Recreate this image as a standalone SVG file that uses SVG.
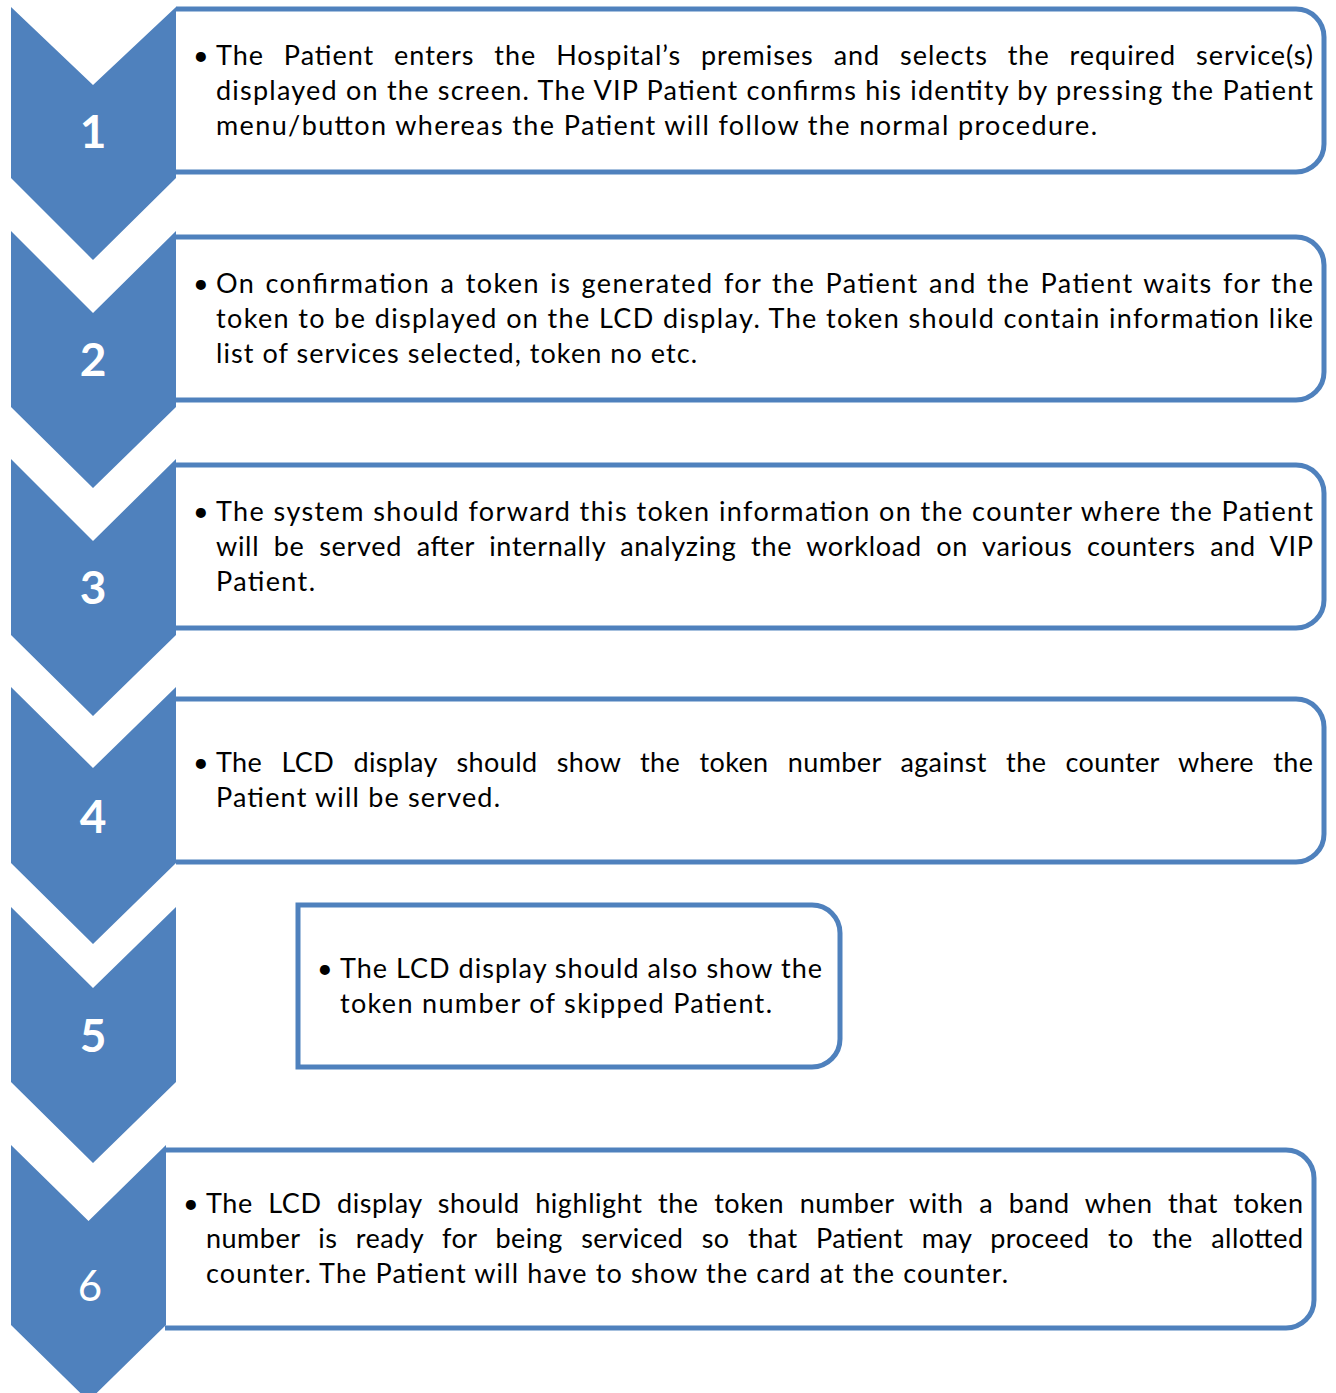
<svg xmlns="http://www.w3.org/2000/svg" width="1336" height="1393" viewBox="0 0 1336 1393">
<style>
.chev{fill:#4F81BD;stroke:none}
.box{fill:#FFFFFF;stroke:#4F81BD;stroke-width:5}
.num{font-family:Lato,"Liberation Sans",sans-serif;font-size:46px;font-weight:bold;fill:#FFFFFF;text-anchor:middle}
.num6{font-family:Lato,"Liberation Sans",sans-serif;font-size:42px;fill:#FFFFFF;text-anchor:middle}
.t{font-family:Lato,"Liberation Sans",sans-serif;font-size:27px;fill:#000000}
</style>
<rect width="1336" height="1393" fill="#FFFFFF"/>

<g id="box1">
<path class="box" d="M176,9 H1296 A28,28 0 0 1 1324,37 V144 A28,28 0 0 1 1296,172 H176"/>
<text class="t" x="193" y="65">•</text>
<text class="t" x="216" y="65" word-spacing="12" textLength="1097" lengthAdjust="spacing">The Patient enters the Hospital’s premises and selects the required service(s)</text>
<text class="t" x="216" y="100" textLength="1097" lengthAdjust="spacing">displayed on the screen. The VIP Patient confirms his identity by pressing the Patient</text>
<text class="t" x="216" y="135" textLength="881" lengthAdjust="spacing">menu/button whereas the Patient will follow the normal procedure.</text>
</g>

<g id="box2">
<path class="box" d="M176,237 H1296 A28,28 0 0 1 1324,265 V372 A28,28 0 0 1 1296,400 H176"/>
<text class="t" x="193" y="293">•</text>
<text class="t" x="216" y="293" word-spacing="2" textLength="1097" lengthAdjust="spacing">On confirmation a token is generated for the Patient and the Patient waits for the</text>
<text class="t" x="216" y="328" textLength="1097" lengthAdjust="spacing">token to be displayed on the LCD display. The token should contain information like</text>
<text class="t" x="216" y="363" textLength="481" lengthAdjust="spacing">list of services selected, token no etc.</text>
</g>

<g id="box3">
<path class="box" d="M176,465 H1296 A28,28 0 0 1 1324,493 V600 A28,28 0 0 1 1296,628 H176"/>
<text class="t" x="193" y="521">•</text>
<text class="t" x="216" y="521" textLength="1097" lengthAdjust="spacing">The system should forward this token information on the counter where the Patient</text>
<text class="t" x="216" y="556" word-spacing="7" textLength="1097" lengthAdjust="spacing">will be served after internally analyzing the workload on various counters and VIP</text>
<text class="t" x="216" y="591" textLength="99" lengthAdjust="spacing">Patient.</text>
</g>

<g id="box4">
<path class="box" d="M176,699 H1296 A28,28 0 0 1 1324,727 V834 A28,28 0 0 1 1296,862 H176"/>
<text class="t" x="193" y="772">•</text>
<text class="t" x="216" y="772" word-spacing="12" textLength="1097" lengthAdjust="spacing">The LCD display should show the token number against the counter where the</text>
<text class="t" x="216" y="807" textLength="284" lengthAdjust="spacing">Patient will be served.</text>
</g>

<g id="box5">
<path class="box" d="M298,905 H812 A28,28 0 0 1 840,933 V1039 A28,28 0 0 1 812,1067 H298 Z"/>
<text class="t" x="317" y="978">•</text>
<text class="t" x="340" y="978" textLength="482" lengthAdjust="spacing">The LCD display should also show the</text>
<text class="t" x="340" y="1013" textLength="432" lengthAdjust="spacing">token number of skipped Patient.</text>
</g>

<g id="box6">
<path class="box" d="M165,1150 H1286 A28,28 0 0 1 1314,1178 V1300 A28,28 0 0 1 1286,1328 H165"/>
<text class="t" x="183" y="1213">•</text>
<text class="t" x="206" y="1213" word-spacing="8" textLength="1097" lengthAdjust="spacing">The LCD display should highlight the token number with a band when that token</text>
<text class="t" x="206" y="1248" word-spacing="11" textLength="1097" lengthAdjust="spacing">number is ready for being serviced so that Patient may proceed to the allotted</text>
<text class="t" x="206" y="1283" textLength="802" lengthAdjust="spacing">counter. The Patient will have to show the card at the counter.</text>
</g>

<g id="step1">
<path class="chev" d="M11,7 L93,85 L176,7 L176,178 L93,260 L11,178 Z"/>
<text class="num" x="93" y="148">1</text>
</g>
<g id="step2">
<path class="chev" d="M11,231 L93,313 L176,231 L176,407 L93,488 L11,407 Z"/>
<text class="num" x="93" y="376">2</text>
</g>
<g id="step3">
<path class="chev" d="M11,459 L93,541 L176,459 L176,635 L93,716 L11,635 Z"/>
<text class="num" x="93" y="604">3</text>
</g>
<g id="step4">
<path class="chev" d="M11,687 L93,768 L176,687 L176,863 L93,944 L11,863 Z"/>
<text class="num" x="93" y="833">4</text>
</g>
<g id="step5">
<path class="chev" d="M11,907 L93,988 L176,907 L176,1082 L93,1163 L11,1082 Z"/>
<text class="num" x="93" y="1052">5</text>
</g>
<g id="step6">
<path class="chev" d="M11,1145 L88.5,1221 L166,1145 L166,1325 L88.5,1401 L11,1325 Z"/>
<text class="num6" x="90" y="1301">6</text>
</g>
</svg>
